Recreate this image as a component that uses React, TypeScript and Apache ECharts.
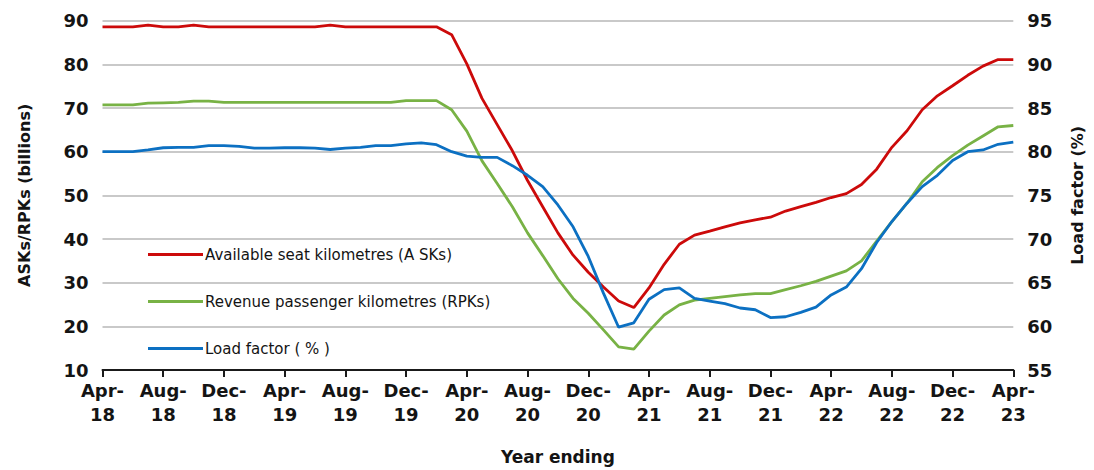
import React, { useEffect, useRef } from "react";
import * as echarts from "echarts";

const categories = [
  "Apr-18","May-18","Jun-18","Jul-18","Aug-18","Sep-18","Oct-18","Nov-18","Dec-18","Jan-19","Feb-19","Mar-19",
  "Apr-19","May-19","Jun-19","Jul-19","Aug-19","Sep-19","Oct-19","Nov-19","Dec-19","Jan-20","Feb-20","Mar-20",
  "Apr-20","May-20","Jun-20","Jul-20","Aug-20","Sep-20","Oct-20","Nov-20","Dec-20","Jan-21","Feb-21","Mar-21",
  "Apr-21","May-21","Jun-21","Jul-21","Aug-21","Sep-21","Oct-21","Nov-21","Dec-21","Jan-22","Feb-22","Mar-22",
  "Apr-22","May-22","Jun-22","Jul-22","Aug-22","Sep-22","Oct-22","Nov-22","Dec-22","Jan-23","Feb-23","Mar-23",
  "Apr-23",
];

// Available seat kilometres (billions), left axis
const asks = [
  88.6, 88.6, 88.6, 89.0, 88.6, 88.6, 89.0, 88.6, 88.6, 88.6, 88.6, 88.6,
  88.6, 88.6, 88.6, 89.0, 88.6, 88.6, 88.6, 88.6, 88.6, 88.6, 88.6, 86.8,
  80.1, 72.2, 66.2, 60.2, 53.4, 47.4, 41.4, 36.3, 32.4, 29.0, 25.8, 24.3,
  28.8, 34.2, 38.8, 40.9, 41.8, 42.8, 43.7, 44.4, 45.0, 46.4, 47.4, 48.4,
  49.5, 50.4, 52.5, 56.0, 61.0, 64.8, 69.6, 72.8, 75.1, 77.5, 79.6, 81.1,
  81.1,
];

// Revenue passenger kilometres (billions), left axis
const rpks = [
  70.7, 70.7, 70.7, 71.1, 71.2, 71.3, 71.6, 71.6, 71.3, 71.3, 71.3, 71.3,
  71.3, 71.3, 71.3, 71.3, 71.3, 71.3, 71.3, 71.3, 71.7, 71.7, 71.7, 69.6,
  64.7, 57.9, 52.7, 47.4, 41.4, 36.2, 30.9, 26.4, 23.0, 19.2, 15.3, 14.8,
  18.9, 22.6, 24.9, 26.0, 26.4, 26.8, 27.2, 27.5, 27.5, 28.4, 29.3, 30.3,
  31.5, 32.7, 35.0, 39.5, 44.0, 48.2, 53.1, 56.4, 59.1, 61.5, 63.6, 65.7,
  66.0,
];

// Load factor (%), right axis
const loadFactor = [
  80.0, 80.0, 80.0, 80.2, 80.45, 80.5, 80.5, 80.7, 80.7, 80.6, 80.4, 80.4,
  80.45, 80.45, 80.4, 80.25, 80.4, 80.5, 80.7, 80.7, 80.9, 81.0, 80.8, 80.0,
  79.5, 79.35, 79.35, 78.4, 77.3, 76.0, 73.9, 71.4, 68.0, 63.8, 59.9, 60.4,
  63.1, 64.2, 64.4, 63.2, 62.9, 62.6, 62.1, 61.9, 61.0, 61.1, 61.6, 62.2,
  63.6, 64.5, 66.6, 69.6, 72.0, 74.1, 76.0, 77.3, 79.0, 80.0, 80.2, 80.85,
  81.1,
];

const seriesNames = [
  "Available seat kilometres (A SKs)",
  "Revenue passenger kilometres (RPKs)",
  "Load factor ( % )",
];

const leftAxisName = "ASKs/RPKs (billions)";
const rightAxisName = "Load factor (%)";
const xAxisName = "Year ending";

const RED = "#CC0A0A";
const GREEN = "#78B245";
const BLUE = "#0C70C2";
const TEXT = "#141414";
const FONT = "'DejaVu Sans', 'Liberation Sans', Arial, sans-serif";

export default function App() {
  const ref = useRef<HTMLDivElement>(null);

  useEffect(() => {
    if (!ref.current) return;
    const chart = echarts.init(ref.current, undefined, { renderer: "svg" });
    const axisLabelStyle = {
      color: TEXT,
      fontFamily: FONT,
      fontWeight: "bold" as const,
      fontSize: 18,
    };
    chart.setOption({
      animation: false,
      backgroundColor: "#ffffff",
      grid: { left: 102.5, right: 80.7, top: 20.7, bottom: 93.3, containLabel: false },
      legend: {
        orient: "vertical",
        left: 143,
        top: 241,
        itemWidth: 55,
        itemHeight: 3,
        itemGap: 30,
        icon: "rect",
        data: seriesNames,
        textStyle: {
          color: TEXT,
          fontFamily: FONT,
          fontSize: 15,
          lineHeight: 17,
          padding: [0, 0, 0, -3],
        },
      },
      xAxis: {
        type: "category",
        data: categories,
        boundaryGap: false,
        name: xAxisName,
        nameLocation: "middle",
        nameGap: 78,
        nameTextStyle: { ...axisLabelStyle, fontSize: 17 },
        axisLine: { lineStyle: { color: "#1a1a1a", width: 2 } },
        axisTick: { show: true, interval: 3, length: 7, lineStyle: { color: "#1a1a1a", width: 2 } },
        axisLabel: {
          ...axisLabelStyle,
          fontSize: 18,
          lineHeight: 24,
          interval: 3,
          margin: 8,
          formatter: (v: string) => v.replace("-", "-\n"),
        },
        splitLine: { show: false },
      },
      yAxis: [
        {
          type: "value",
          min: 10,
          max: 90,
          interval: 10,
          name: leftAxisName,
          nameLocation: "middle",
          nameGap: 70,
          nameRotate: 90,
          nameTextStyle: { ...axisLabelStyle, fontSize: 16 },
          axisLine: { show: false },
          axisTick: { show: false },
          axisLabel: { ...axisLabelStyle, margin: 14 },
          splitLine: { lineStyle: { color: "#c9c9c9", width: 2 } },
        },
        {
          type: "value",
          min: 55,
          max: 95,
          interval: 5,
          position: "right",
          name: rightAxisName,
          nameLocation: "middle",
          nameGap: 56,
          nameRotate: 90,
          nameTextStyle: { ...axisLabelStyle, fontSize: 16 },
          axisLine: { show: false },
          axisTick: { show: false },
          axisLabel: { ...axisLabelStyle, margin: 14 },
          splitLine: { show: false },
        },
      ],
      series: [
        {
          name: seriesNames[0],
          type: "line",
          data: asks,
          yAxisIndex: 0,
          showSymbol: false,
          lineStyle: { color: RED, width: 2.8 },
          itemStyle: { color: RED },
          z: 3,
        },
        {
          name: seriesNames[1],
          type: "line",
          data: rpks,
          yAxisIndex: 0,
          showSymbol: false,
          lineStyle: { color: GREEN, width: 2.8 },
          itemStyle: { color: GREEN },
          z: 2,
        },
        {
          name: seriesNames[2],
          type: "line",
          data: loadFactor,
          yAxisIndex: 1,
          showSymbol: false,
          lineStyle: { color: BLUE, width: 2.8 },
          itemStyle: { color: BLUE },
          z: 4,
        },
      ],
    });
    return () => chart.dispose();
  }, []);

  return (
    <div
      ref={ref}
      style={{ position: "fixed", left: 0, top: 0, width: 1094, height: 470, background: "#fff" }}
    />
  );
}
